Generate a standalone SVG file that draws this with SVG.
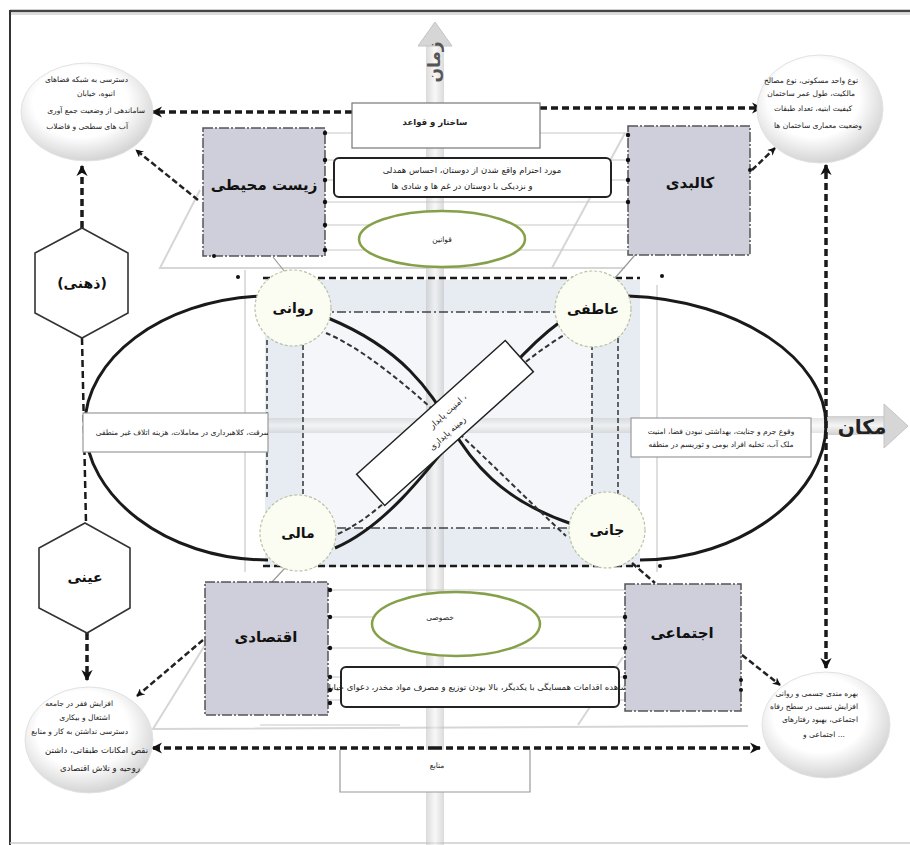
<svg xmlns="http://www.w3.org/2000/svg" width="910" height="845" viewBox="0 0 910 845">
<defs>
<style>
text{font-family:"DejaVu Sans","Noto Sans",sans-serif;fill:#222}
.small{font-size:7.5px}
.mid{font-size:8.5px}
.box{fill:#cfcfdb;stroke:#555;stroke-width:1.5;stroke-dasharray:10 2 2 2}
.boxlbl{font-size:15px;font-weight:bold;fill:#111}
.thick{fill:none;stroke:#1a1a1a;stroke-width:3.5;stroke-dasharray:7 4}
.med{fill:none;stroke:#222;stroke-width:2.5;stroke-dasharray:6 3}
.thin{fill:none;stroke:#c8c8c8;stroke-width:1.2}
.faint{fill:none;stroke:#d6d6d6;stroke-width:2}
.loop{fill:none;stroke:#1a1a1a;stroke-width:3}
.dash{fill:none;stroke:#333;stroke-width:1.5;stroke-dasharray:5 3}
.dashdot{fill:none;stroke:#444;stroke-width:1.3;stroke-dasharray:9 3 2 3}
.node{fill:#fbfcf2;stroke:#b9c2a2;stroke-width:1.2;stroke-dasharray:3 2}
.nodelbl{font-size:14px;font-weight:bold;fill:#111}
.green{fill:#fff;stroke:#86a04a;stroke-width:2.5}
.corner{fill:url(#cg);stroke:#e2e2e2;stroke-width:1}
.hex{fill:#fff;stroke:#333;stroke-width:1.6}
.rbox{fill:#fff;stroke:#222;stroke-width:2}
.pbox{fill:#fff;stroke:#9a9a9a;stroke-width:1.2}
.dot{fill:#111}
</style>
<radialGradient id="cg" cx="45%" cy="40%" r="60%">
<stop offset="0.6" stop-color="#ffffff"/>
<stop offset="1" stop-color="#d4d4d4"/>
</radialGradient>
<linearGradient id="vband" x1="0" y1="0" x2="1" y2="0">
<stop offset="0" stop-color="#bdbdbd"/>
<stop offset="0.5" stop-color="#f2f2f2"/>
<stop offset="1" stop-color="#bdbdbd"/>
</linearGradient>
<linearGradient id="hband" x1="0" y1="0" x2="0" y2="1">
<stop offset="0" stop-color="#c4c4c4"/>
<stop offset="0.5" stop-color="#f2f2f2"/>
<stop offset="1" stop-color="#c4c4c4"/>
</linearGradient>
<marker id="ah" viewBox="0 0 10 10" refX="9" refY="5" markerWidth="3.2" markerHeight="3.2" orient="auto" markerUnits="strokeWidth">
<path d="M0,0 L10,5 L0,10 L3,5 z" fill="#111"/>
</marker>
<clipPath id="clipL"><rect x="83" y="413" width="185" height="39"/></clipPath>
</defs>

<rect width="910" height="845" fill="#fff"/>
<!-- frame -->
<line x1="10" y1="11" x2="910" y2="11" stroke="#444" stroke-width="2.5"/>
<line x1="10" y1="14" x2="910" y2="14" stroke="#bbb" stroke-width="1"/>
<line x1="10" y1="10" x2="10" y2="845" stroke="#333" stroke-width="2"/>
<line x1="10" y1="843" x2="910" y2="843" stroke="#ccc" stroke-width="1.5"/>

<!-- background faint shapes -->
<g id="background">
<path class="faint" d="M200,190 L160,268 L625,268"/>
<path class="faint" d="M552,268 L625,133"/>
<path class="faint" d="M205,645 L153,729 L748,726"/>
<path class="faint" d="M578,725 L623,657"/>
<rect x="265" y="280" width="375" height="287" fill="#e7ecf2"/>
<rect x="303" y="312" width="289" height="216" fill="#f4f6f9"/>
<line class="thin" x1="245" y1="270" x2="245" y2="572"/>
<line class="thin" x1="657" y1="285" x2="657" y2="572"/>
</g>

<!-- axes -->
<g id="axis-time">
<rect x="426" y="42" width="18" height="803" fill="url(#vband)" opacity="0.55"/>
<polygon points="418,46 435,22 452,46" fill="#d6d6d6" stroke="#c4c4c4"/>
<text x="0" y="0" transform="translate(440,62) rotate(-90)" text-anchor="middle" style="font-size:17px;font-weight:bold;fill:#555">زمان</text>
</g>
<g id="axis-place">
<rect x="245" y="418" width="580" height="15" fill="url(#hband)" opacity="0.45"/>
<rect x="825" y="416" width="62" height="19" fill="url(#hband)" opacity="0.8"/>
<polygon points="884,404 908,426 884,448" fill="#d6d6d6" stroke="#c4c4c4"/>
<text x="862" y="434" text-anchor="middle" style="font-size:20px;font-weight:bold;fill:#222">مکان</text>
</g>

<!-- connectors -->
<g id="connectors">
<line class="thin" x1="325" y1="133" x2="628" y2="133"/>
<line class="thin" x1="325" y1="160" x2="628" y2="160"/>
<line class="thin" x1="325" y1="180" x2="628" y2="180"/>
<line class="thin" x1="325" y1="202" x2="628" y2="202"/>
<line class="thin" x1="325" y1="225" x2="628" y2="225"/>
<line class="thin" x1="325" y1="250" x2="628" y2="250"/>
<line class="thin" x1="328" y1="590" x2="625" y2="590"/>
<line class="thin" x1="328" y1="617" x2="625" y2="617"/>
<line class="thin" x1="328" y1="648" x2="625" y2="648"/>
<line class="thin" x1="328" y1="677" x2="625" y2="677"/>
<line class="thin" x1="328" y1="700" x2="625" y2="700"/>
<line class="thin" x1="260" y1="725" x2="400" y2="725"/>
<line class="thick" x1="263" y1="278" x2="640" y2="278" style="stroke-width:2.5"/>
<line class="thick" x1="263" y1="566" x2="640" y2="566" style="stroke-width:2.5"/>
<line class="dash" x1="267" y1="340" x2="267" y2="500"/>
<line class="dash" x1="303" y1="345" x2="303" y2="500"/>
<line class="dash" x1="592" y1="345" x2="592" y2="505"/>
<line class="dash" x1="618" y1="330" x2="618" y2="505"/>
<line class="dashdot" x1="303" y1="312" x2="592" y2="312"/>
<line class="dashdot" x1="303" y1="528" x2="592" y2="528"/>
<path class="loop" d="M262,296 C160,300 85,360 85,425 C85,495 165,560 268,560"/>
<path class="loop" d="M628,296 C740,300 826,360 826,425 C826,495 740,560 640,560"/>
<path class="loop" d="M328,318 C405,350 430,392 450,425 C470,460 500,500 572,524"/>
<path class="loop" d="M335,548 C420,512 480,380 560,322"/>
<path class="dash" d="M326,333 C395,362 495,470 566,536" style="stroke-width:2"/>
<path class="dash" d="M338,534 C415,498 470,390 566,334" style="stroke-width:2"/>
<line class="thick" x1="352" y1="112" x2="152" y2="112" marker-end="url(#ah)"/>
<line class="thick" x1="540" y1="108" x2="762" y2="108" marker-end="url(#ah)"/>
<line class="thick" x1="435" y1="748" x2="152" y2="748" marker-end="url(#ah)"/>
<line class="thick" x1="435" y1="748" x2="760" y2="748" marker-end="url(#ah)"/>
<line class="thick" x1="82" y1="228" x2="82" y2="166" marker-end="url(#ah)"/>
<line class="thick" x1="87" y1="633" x2="87" y2="680" marker-end="url(#ah)"/>
<line class="thick" x1="82" y1="338" x2="86" y2="523" style="stroke-width:2.5"/>
<line class="thick" x1="826" y1="300" x2="826" y2="165" marker-end="url(#ah)"/>
<line class="thick" x1="826" y1="300" x2="826" y2="668" marker-end="url(#ah)"/>
<line class="med" x1="198" y1="200" x2="136" y2="150" marker-end="url(#ah)"/>
<line class="med" x1="752" y1="170" x2="775" y2="148" marker-end="url(#ah)"/>
<line class="med" x1="203" y1="640" x2="137" y2="696" marker-end="url(#ah)"/>
<line class="med" x1="742" y1="655" x2="780" y2="685" marker-end="url(#ah)"/>
<line class="med" x1="632" y1="563" x2="655" y2="583"/>
<line class="thin" x1="273" y1="257" x2="285" y2="272" style="stroke:#999"/>
<line class="thin" x1="272" y1="582" x2="285" y2="568" style="stroke:#999"/>
<line class="thin" x1="635" y1="255" x2="615" y2="278" style="stroke:#999"/>
<circle class="dot" cx="238" cy="277" r="2"/>
<circle class="dot" cx="662" cy="276" r="2"/>
<circle class="dot" cx="660" cy="566" r="2"/>
</g>

<g id="center-box-left">
<rect class="pbox" x="83" y="413" width="185" height="39"/>
<text class="small" x="270" y="435" text-anchor="end" clip-path="url(#clipL)">سرقت، کلاهبرداری در معاملات، هزینه اتلاف غیر منطقی</text>
</g>
<g id="center-box-right">
<rect class="pbox" x="631" y="418" width="180" height="39"/>
<text class="small" x="721" y="434" text-anchor="middle">وقوع جرم و جنایت، بهداشتی نبودن فضا، امنیت</text>
<text class="small" x="721" y="447" text-anchor="middle">ملک آب، تخلیه افراد بومی و توریسم در منطقه</text>
</g>
<g id="diagonal-box" transform="translate(445,423) rotate(-42)">
<rect x="-100" y="-21" width="200" height="42" fill="#fff" stroke="#222" stroke-width="1.5"/>
<text class="mid" x="10" y="-4" text-anchor="middle">امنیت  پایدار  ،</text>
<text class="mid" x="-5" y="12" text-anchor="middle">زمینه   پایداری</text>
</g>

<g id="n-ravani"><circle class="node" cx="293" cy="308" r="38"/><text class="nodelbl" x="293" y="313" text-anchor="middle">روانی</text></g>
<g id="n-atefi"><circle class="node" cx="593" cy="309" r="38"/><text class="nodelbl" x="593" y="314" text-anchor="middle">عاطفی</text></g>
<g id="n-mali"><circle class="node" cx="298" cy="533" r="38"/><text class="nodelbl" x="298" y="538" text-anchor="middle">مالی</text></g>
<g id="n-jani"><circle class="node" cx="607" cy="530" r="38"/><text class="nodelbl" x="607" y="535" text-anchor="middle">جانی</text></g>

<g id="n-sakhtar"><rect class="pbox" x="352" y="103" width="188" height="45" style="stroke:#777"/><text class="mid" x="435" y="125" text-anchor="middle" style="font-weight:bold">ساختار و قواعد</text></g>
<g id="n-ehteram"><rect class="rbox" x="334" y="158" width="277" height="39" rx="5"/>
<text class="mid" x="472" y="173" text-anchor="middle">مورد احترام واقع شدن از دوستان، احساس همدلی</text>
<text class="mid" x="462" y="189" text-anchor="middle">و نزدیکی با دوستان در غم ها و شادی ها</text></g>
<g id="n-qavanin"><ellipse class="green" cx="442" cy="239" rx="83" ry="28"/><text class="small" x="442" y="242" text-anchor="middle">قوانین</text></g>

<g id="n-khosusi"><ellipse class="green" cx="456" cy="624" rx="84" ry="32"/><text class="small" x="440" y="620" text-anchor="middle">خصوصی</text></g>
<g id="n-moshahede"><rect class="rbox" x="341" y="667" width="278" height="40" rx="5"/>
<text class="mid" x="476" y="690" text-anchor="middle">مشاهده اقدامات همسایگی با یکدیگر، بالا بودن توزیع و مصرف مواد مخدر، دعوای خیابانی</text></g>
<g id="n-manabe"><path class="pbox" d="M340,750 L340,792 L530,792 L530,750"/><text class="small" x="437" y="768" text-anchor="middle">منابع</text></g>

<g id="n-zist"><rect class="box" x="203" y="128" width="122" height="128"/><text class="boxlbl" x="264" y="190" text-anchor="middle">زیست محیطی</text>
<circle class="dot" cx="325" cy="133" r="2.2"/><circle class="dot" cx="325" cy="160" r="2.2"/><circle class="dot" cx="325" cy="180" r="2.2"/><circle class="dot" cx="325" cy="202" r="2.2"/><circle class="dot" cx="325" cy="225" r="2.2"/><circle class="dot" cx="325" cy="250" r="2.2"/><circle class="dot" cx="214" cy="256" r="2"/></g>
<g id="n-kalbadi"><rect class="box" x="628" y="126" width="122" height="129"/><text class="boxlbl" x="690" y="188" text-anchor="middle">کالبدی</text>
<circle class="dot" cx="628" cy="135" r="2.2"/><circle class="dot" cx="628" cy="160" r="2.2"/><circle class="dot" cx="628" cy="180" r="2.2"/><circle class="dot" cx="628" cy="202" r="2.2"/><circle class="dot" cx="750" cy="170" r="2"/></g>
<g id="n-eqtesadi"><rect class="box" x="205" y="582" width="123" height="133"/><text class="boxlbl" x="266" y="642" text-anchor="middle">اقتصادی</text>
<circle class="dot" cx="330" cy="590" r="2.2"/><circle class="dot" cx="330" cy="617" r="2.2"/><circle class="dot" cx="330" cy="648" r="2.2"/><circle class="dot" cx="330" cy="677" r="2.2"/><circle class="dot" cx="330" cy="690" r="2.2"/><circle class="dot" cx="330" cy="703" r="2.2"/></g>
<g id="n-ejtemai"><rect class="box" x="625" y="584" width="116" height="127"/><text class="boxlbl" x="682" y="638" text-anchor="middle">اجتماعی</text>
<circle class="dot" cx="625" cy="617" r="2.2"/><circle class="dot" cx="625" cy="648" r="2.2"/><circle class="dot" cx="625" cy="677" r="2.2"/><circle class="dot" cx="741" cy="680" r="2"/><circle class="dot" cx="741" cy="690" r="2"/></g>

<g id="n-zehni"><polygon class="hex" points="82,228 128,253 128,313 82,338 35,313 35,253"/><text class="nodelbl" x="82" y="288" text-anchor="middle">(ذهنی)</text></g>
<g id="n-eini"><polygon class="hex" points="85,523 130,548 130,608 87,633 39,608 39,548"/><text class="nodelbl" x="85" y="582" text-anchor="middle">عینی</text></g>

<g id="c-tl"><ellipse class="corner" cx="87" cy="112" rx="66" ry="49"/>
<text class="small" x="128" y="82" text-anchor="end">دسترسی به شبکه فضاهای</text>
<text class="small" x="115" y="96" text-anchor="end">انبوه، خیابان</text>
<text class="small" x="145" y="113" text-anchor="end">ساماندهی از وضعیت جمع آوری</text>
<text class="small" x="128" y="129" text-anchor="end">آب های سطحی و فاضلاب</text></g>
<g id="c-tr"><ellipse class="corner" cx="820" cy="109" rx="63" ry="54"/>
<text class="small" x="858" y="83" text-anchor="end">نوع واحد مسکونی، نوع مصالح</text>
<text class="small" x="855" y="96" text-anchor="end">مالکیت، طول عمر ساختمان</text>
<text class="small" x="852" y="111" text-anchor="end">کیفیت ابنیه، تعداد طبقات</text>
<text class="small" x="862" y="128" text-anchor="end">وضعیت معماری ساختمان ها</text></g>
<g id="c-bl"><ellipse class="corner" cx="89" cy="740" rx="64" ry="53"/>
<text class="small" x="113" y="706" text-anchor="end">افزایش فقر در جامعه</text>
<text class="small" x="110" y="720" text-anchor="end">اشتغال و بیکاری</text>
<text class="small" x="128" y="734" text-anchor="end">دسترسی نداشتن به کار و منابع</text>
<text class="mid" x="148" y="753" text-anchor="end">نقص امکانات طبقاتی، داشتن</text>
<text class="mid" x="140" y="771" text-anchor="end">روحیه و تلاش اقتصادی</text></g>
<g id="c-br"><ellipse class="corner" cx="826" cy="725" rx="64" ry="53"/>
<text class="small" x="858" y="696" text-anchor="end">بهره مندی جسمی و روانی</text>
<text class="small" x="858" y="709" text-anchor="end">افزایش نسبی در سطح رفاه</text>
<text class="small" x="858" y="722" text-anchor="end">اجتماعی، بهبود رفتارهای</text>
<text class="small" x="845" y="737" text-anchor="end">اجتماعی و ...</text></g>
</svg>
